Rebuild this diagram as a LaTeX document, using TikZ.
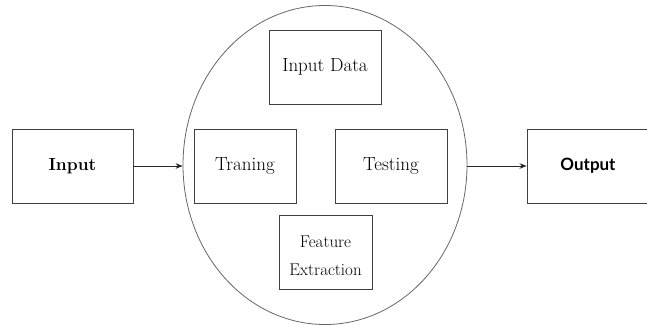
\documentclass[tikz,border=0pt]{standalone}
\usepackage{fontspec}
\newfontfamily\calfont{Lato}
\usetikzlibrary{shapes.geometric,arrows.meta}
\begin{document}
\begin{tikzpicture}[x=1pt,y=-1pt,
  box/.style={draw=black!75, line width=0.9pt, rectangle, inner sep=0pt, text=black},
  link/.style={draw=black!85, line width=0.9pt, -{Stealth[length=7pt,width=5.5pt]}}]
  \useasboundingbox (0,0) rectangle (647,326);
  % outer process ellipse
  \node[draw=black!60, line width=0.8pt, ellipse, minimum width=284pt, minimum height=319pt, inner sep=0pt] (proc) at (325,165) {};
  % side boxes
  \node[box, minimum width=121pt, minimum height=74pt, font=\fontsize{17.5}{22}\selectfont\bfseries] (in) at (72.5,166) {Input};
  \node[box, minimum width=122pt, minimum height=74pt, font=\calfont\fontsize{17}{22}\selectfont\bfseries] (out) at (588,166) {Output};
  % inner boxes
  \node[box, minimum width=112pt, minimum height=74pt, font=\fontsize{19}{22}\selectfont] (data) at (325,67) {Input Data};
  \node[box, minimum width=102pt, minimum height=74pt, font=\fontsize{19}{22}\selectfont] (train) at (245,166) {Traning};
  \node[box, minimum width=112pt, minimum height=74pt, font=\fontsize{19}{22}\selectfont] (test) at (391,166) {Testing};
  \node[box, minimum width=93pt, minimum height=74pt] (feat) at (325.5,252) {};
  \node[align=center, inner sep=0pt, font=\fontsize{17}{28}\selectfont] (feattext) at ([yshift=-4pt]feat.center) {Feature\\Extraction};
  % connectors
  \draw[link] (in.east) -- (in.east -| proc.west);
  \draw[link] (in.east -| proc.east) -- (out.west);
\end{tikzpicture}
\end{document}
